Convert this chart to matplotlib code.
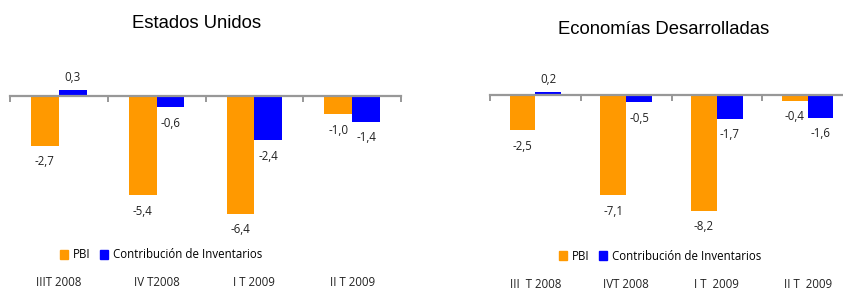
import matplotlib
matplotlib.use("Agg")
import matplotlib.pyplot as plt
from matplotlib.transforms import blended_transform_factory
from matplotlib.patches import Patch
import numpy as np

# Data
titles = ["Estados Unidos", "Economías Desarrolladas"]
cats_us = ["IIIT 2008", "IV T2008", "I T 2009", "II T 2009"]
cats_dev = ["III  T 2008", "IVT 2008", "I T  2009", "II T  2009"]
pbi_us = [-2.7, -5.4, -6.4, -1.0]
inv_us = [0.3, -0.6, -2.4, -1.4]
pbi_dev = [-2.5, -7.1, -8.2, -0.4]
inv_dev = [0.2, -0.5, -1.7, -1.6]
series_names = ["PBI", "Contribución de Inventarios"]

ORANGE = "#FF9900"
BLUE = "#0000FF"
GRAY = "#989898"

W, H = 843, 291
fig = plt.figure(figsize=(W / 100, H / 100), dpi=100)

def px_rect(x0, x1, ytop, ybot):
    return [x0 / W, 1 - ybot / H, (x1 - x0) / W, (ybot - ytop) / H]

LABEL_FONT = "Open Sans"
FS = 8.3

def draw(rect, ylim, cats, pbi, inv, title, title_xy, cat_y, legend_xy):
    ax = fig.add_axes(rect)
    x = np.arange(len(cats))
    bw = 0.285
    b1 = ax.bar(x - bw / 2, pbi, bw, color=ORANGE, zorder=2)
    b2 = ax.bar(x + bw / 2, inv, bw, color=BLUE, zorder=2)
    ax.set_xlim(-0.5, len(cats) - 0.5)
    ax.set_ylim(*ylim)
    for s in ["top", "right", "left"]:
        ax.spines[s].set_visible(False)
    ax.spines["bottom"].set_position(("data", 0))
    ax.spines["bottom"].set_color(GRAY)
    ax.spines["bottom"].set_linewidth(1.6)
    ax.spines["bottom"].set_zorder(3)
    ax.set_yticks([])
    ax.set_xticks([])
    ax.set_xticks(np.arange(-0.5, len(cats)), minor=True)
    ax.tick_params(axis="x", which="minor", direction="out", length=4,
                   width=1.4, color=GRAY, labelbottom=False)
    for bars, vals in ((b1, pbi), (b2, inv)):
        for r, v in zip(bars, vals):
            xc = r.get_x() + r.get_width() / 2
            off = 9 if v >= 0 else -11.5
            ax.annotate(f"{v:.1f}".replace(".", ","), (xc, v),
                        xytext=(0, off), textcoords="offset points",
                        ha="center", va="center", fontsize=FS,
                        family=LABEL_FONT, color="#222222")
    tr = blended_transform_factory(ax.transData, fig.transFigure)
    for i, c in enumerate(cats):
        ax.text(i, 1 - cat_y / H, c, transform=tr, ha="center", va="center",
                fontsize=FS, family=LABEL_FONT, color="#222222")
    fig.text(title_xy[0] / W, 1 - title_xy[1] / H, title, ha="center",
             va="center", fontsize=13.3, family="Liberation Sans")
    handles = [Patch(color=ORANGE), Patch(color=BLUE)]
    fig.legend(handles, series_names, loc="center",
               bbox_to_anchor=(legend_xy[0] / W, 1 - legend_xy[1] / H),
               ncol=2, frameon=False, handlelength=0.75, handleheight=0.75,
               handletextpad=0.4, columnspacing=0.8,
               prop={"family": LABEL_FONT, "size": FS})
    return ax

# left chart: zero at y=96, 18.4 px/unit
draw(px_rect(10, 401, 40, 240), (-(240 - 96) / 18.4, (96 - 40) / 18.4),
     cats_us, pbi_us, inv_us, titles[0], (197, 23), 282, (161, 255))
# right chart: zero at y=95, 14.1 px/unit
draw(px_rect(490, 853, 40, 240), (-(240 - 95) / 14.1, (95 - 40) / 14.1),
     cats_dev, pbi_dev, inv_dev, titles[1], (664, 30), 284, (660, 256))

fig.savefig("out.png", dpi=100)
